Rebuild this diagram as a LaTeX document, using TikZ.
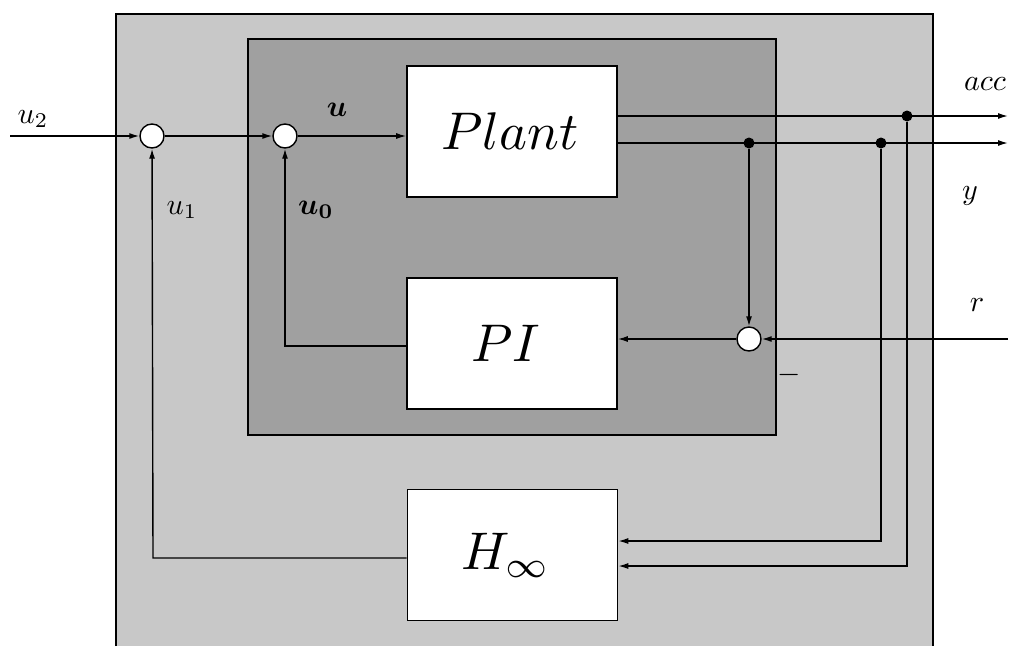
\documentclass[tikz,border=0pt]{standalone}
\usepackage{graphicx}
\usetikzlibrary{arrows.meta}
\definecolor{outerg}{RGB}{200,200,200}
\definecolor{innerg}{RGB}{160,160,160}
\newcommand{\bigtxt}[1]{\scalebox{5.3}{#1}}
\newcommand{\smtxt}[1]{\scalebox{3.0}{#1}}
\tikzset{
  blk/.style={draw, line width=1.6pt, fill=white, minimum width=210pt, minimum height=131pt, inner sep=0pt},
  sumn/.style={circle, draw, line width=1.4pt, fill=white, minimum size=24pt, inner sep=0pt},
  dotn/.style={circle, fill=black, minimum size=11pt, inner sep=0pt},
  sig/.style={line width=1.4pt, -{Latex[length=10pt,width=6pt]}},
  lbl/.style={inner sep=0pt},
}
\begin{document}
\begin{tikzpicture}[x=1pt,y=-1pt]
\useasboundingbox (0,0) rectangle (1009,646);
% outer shaded box (cut at the bottom)
\fill[outerg] (116,14) rectangle (933,646);
\draw[line width=1.6pt] (116,646) -- (116,14) -- (933,14) -- (933,646);
% inner darker box
\draw[line width=1.8pt, fill=innerg] (248,39) rectangle (776,435);
% blocks
\node[blk] (plant) at (512,131.5) {\bigtxt{$Plant$}\hspace*{4pt}};
\node[blk] (pi) at (512,343.5) {\bigtxt{$PI$}\hspace*{12pt}};
\node[blk] (hinf) at (512.5,555) {\bigtxt{$H_\infty$}\hspace*{14pt}};
% summing junctions
\node[sumn] (s1) at (152,136) {};
\node[sumn] (s2) at (285,136) {};
\node[sumn] (s3) at (749,339) {};
% branch dots
\node[dotn] (da) at (907,116) {};
\node[dotn] (dy1) at (749,143) {};
\node[dotn] (dy2) at (881,143) {};
% free ends and corners
\coordinate (u2in) at (10,136);
\coordinate (accout) at (1008,116);
\coordinate (yout) at (1008,143);
\coordinate (rin) at (1008,339);
\coordinate (u0c) at (285,346);
\coordinate (u1c) at (153,558);
\coordinate (c1) at (881,541);
\coordinate (c2) at (907,566);
% connectors
\draw[sig] (u2in) -- (s1);
\draw[sig] (s1) -- (s2);
\draw[sig] (s2) -- (s2 -| plant.west);
\draw[sig] (plant.east |- accout) -- (accout);
\draw[sig] (plant.east |- yout) -- (yout);
\draw[sig] (dy1) -- (s3);
\draw[sig] (rin) -- (s3);
\draw[sig] (s3) -- (s3 -| pi.east);
\draw[sig] (pi.west |- u0c) -- (u0c) -- (s2);
\draw[sig] (hinf.west |- u1c) -- (u1c) -- (s1);
\draw[sig] (dy2) -- (c1) -- (c1 -| hinf.east);
\draw[sig] (da) -- (c2) -- (c2 -| hinf.east);
% labels
\node[lbl] (lu2) at (33,119) {\smtxt{$u_2$}};
\node[lbl] (lu) at (337,110) {\smtxt{\boldmath$u$}};
\node[lbl] (lu1) at (182,210) {\smtxt{$u_1$}};
\node[lbl] (lu0) at (316,210) {\smtxt{\boldmath$u_0$}};
\node[lbl] (lacc) at (985,84) {\smtxt{$acc$}};
\node[lbl] (ly) at (970,196) {\smtxt{$y$}};
\node[lbl] (lr) at (977,305) {\smtxt{$r$}};
\node[lbl] (lminus) at (789,375) {\smtxt{$-$}};
\end{tikzpicture}
\end{document}
